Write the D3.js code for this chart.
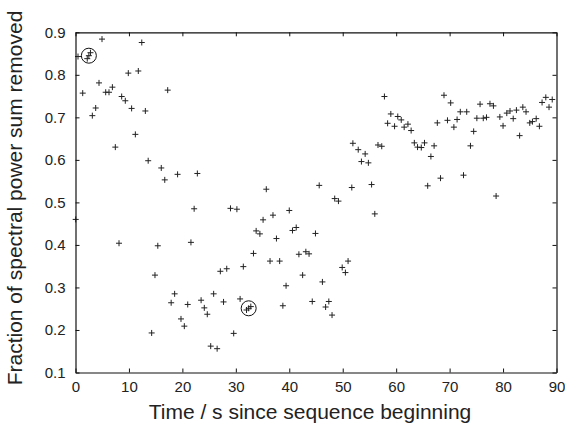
<!DOCTYPE html>
<html>
<head>
<meta charset="utf-8">
<script src="https://cdn.jsdelivr.net/npm/d3@7"></script>
<style>
  body { margin: 0; background: #fff; }
  text { font-family: "Liberation Sans", Arial, sans-serif; fill: #222; }
</style>
</head>
<body>
<script>
// sample times (s) and fraction removed
var times = [0.04, 0.47, 1.35, 2.2, 2.5, 2.8, 3.15, 3.78, 4.4, 4.96, 5.65, 6.27, 6.9, 7.45, 8.14,
  8.64, 9.32, 9.88, 10.5, 11.2, 11.75, 12.4, 13.07, 13.6, 14.25, 14.87, 15.4, 16.05, 16.7, 17.25,
  17.9, 18.55, 19.1, 19.74, 20.36, 21.0, 21.6, 22.2, 22.8, 23.5, 24.1, 24.66, 25.3, 25.85, 26.5,
  27.1, 27.7, 28.3, 29.0, 29.6, 30.2, 30.8, 31.4, 32.0, 32.4, 32.8, 33.3, 33.8, 34.5, 35.1, 35.7,
  36.4, 36.95, 37.6, 38.2, 38.8, 39.4, 40.0, 40.6, 41.3, 41.8, 42.5, 43.1, 43.7, 44.3, 44.9, 45.6,
  46.2, 46.8, 47.4, 48.0, 48.5, 49.2, 49.9, 50.5, 51.0, 51.7, 51.9, 52.9, 53.5, 54.2, 54.8, 55.4,
  56.0, 56.6, 57.3, 57.8, 58.4, 59.0, 59.7, 60.3, 60.95, 61.5, 62.2, 62.8, 63.4, 64.0, 64.7, 65.3,
  65.9, 66.5, 67.1, 67.7, 68.3, 68.95, 69.6, 70.2, 70.8, 71.4, 72.0, 72.6, 73.2, 73.9, 74.5, 75.1,
  75.7, 76.3, 76.9, 77.55, 78.2, 78.7, 79.4, 80.0, 80.7, 81.3, 81.9, 82.5, 83.1, 83.7, 84.3, 85.0,
  85.5, 86.2, 86.8, 87.3, 88.0, 88.6, 89.2];
var fractions = [0.460, 0.843, 0.757, 0.838, 0.845, 0.852, 0.704, 0.722, 0.781, 0.884, 0.759, 0.759, 0.771, 0.630, 0.404,
  0.749, 0.739, 0.804, 0.721, 0.660, 0.809, 0.876, 0.715, 0.598, 0.193, 0.329, 0.398, 0.581, 0.553, 0.764,
  0.264, 0.285, 0.566, 0.226, 0.209, 0.260, 0.406, 0.485, 0.568, 0.270, 0.252, 0.237, 0.162, 0.285, 0.156,
  0.338, 0.266, 0.344, 0.486, 0.192, 0.484, 0.273, 0.349, 0.247, 0.251, 0.255, 0.380, 0.433, 0.426, 0.459, 0.531,
  0.362, 0.470, 0.415, 0.362, 0.257, 0.304, 0.481, 0.434, 0.441, 0.378, 0.329, 0.384, 0.379, 0.267, 0.427, 0.540,
  0.313, 0.254, 0.267, 0.235, 0.509, 0.503, 0.347, 0.335, 0.362, 0.535, 0.639, 0.624, 0.596, 0.614, 0.593, 0.542,
  0.473, 0.635, 0.632, 0.749, 0.686, 0.708, 0.679, 0.702, 0.694, 0.677, 0.684, 0.669, 0.640, 0.630, 0.629, 0.640,
  0.539, 0.608, 0.633, 0.687, 0.557, 0.752, 0.693, 0.734, 0.677, 0.695, 0.713, 0.564, 0.713, 0.633, 0.667, 0.698,
  0.731, 0.698, 0.700, 0.732, 0.727, 0.515, 0.701, 0.680, 0.710, 0.715, 0.697, 0.717, 0.657, 0.724, 0.713, 0.687,
  0.690, 0.697, 0.679, 0.735, 0.747, 0.724, 0.742];

// the two circled groups
var circledTimes = [2.5, 32.4];
var circledFractions = [0.845, 0.251];

var xTicks = [0, 10, 20, 30, 40, 50, 60, 70, 80, 90];
var yTicks = [0.1, 0.2, 0.3, 0.4, 0.5, 0.6, 0.7, 0.8, 0.9];

var width = 565, height = 425;
var plotLeft = 75.5, plotRight = 556.5, plotTop = 32.3, plotBottom = 372.5;

var svg = d3.select('body').append('svg')
  .attr('width', width)
  .attr('height', height);

var x = d3.scaleLinear().domain([0, 90]).range([plotLeft, plotRight]);
var y = d3.scaleLinear().domain([0.1, 0.9]).range([plotBottom, plotTop]);

var points = times.map(function(t, i) { return [t, fractions[i]]; });

// plus markers
svg.append('g')
  .selectAll('path')
  .data(points)
  .enter().append('path')
  .attr('d', function(d) {
    var cx = x(d[0]), cy = y(d[1]), s = 3;
    return 'M' + (cx - s) + ',' + cy + 'H' + (cx + s) + 'M' + cx + ',' + (cy - s) + 'V' + (cy + s);
  })
  .attr('stroke', '#222')
  .attr('stroke-width', 1)
  .attr('fill', 'none');

svg.append('g')
  .selectAll('circle')
  .data(circledTimes)
  .enter().append('circle')
  .attr('cx', function(d) { return x(d); })
  .attr('cy', function(d, i) { return y(circledFractions[i]); })
  .attr('r', 7.5)
  .attr('fill', 'none')
  .attr('stroke', '#111')
  .attr('stroke-width', 1);

// axes, ticks pointing inward, mirrored on top and right
var bottomAxis = d3.axisBottom(x).tickValues(xTicks).tickSizeInner(-4).tickSizeOuter(0).tickPadding(9);
var topAxis = d3.axisTop(x).tickValues(xTicks).tickSizeInner(-4).tickSizeOuter(0).tickFormat('');
var leftAxis = d3.axisLeft(y).tickValues(yTicks).tickSizeInner(-4).tickSizeOuter(0).tickPadding(10)
  .tickFormat(d3.format('.1f'));
var rightAxis = d3.axisRight(y).tickValues(yTicks).tickSizeInner(-4).tickSizeOuter(0).tickFormat('');

svg.append('g').attr('transform', 'translate(0,' + plotBottom + ')').call(bottomAxis);
svg.append('g').attr('transform', 'translate(0,' + plotTop + ')').call(topAxis);
svg.append('g').attr('transform', 'translate(' + plotLeft + ',0)').call(leftAxis);
svg.append('g').attr('transform', 'translate(' + plotRight + ',0)').call(rightAxis);

svg.selectAll('.domain').attr('stroke', '#111').attr('stroke-width', 1.2);
svg.selectAll('.tick line').attr('stroke', '#111');
svg.selectAll('.tick text')
  .style('font-family', '"Liberation Sans", Arial, sans-serif')
  .style('font-size', '15px')
  .attr('fill', '#222');

svg.append('text')
  .attr('x', 310)
  .attr('y', 419)
  .attr('text-anchor', 'middle')
  .style('font-size', '21px')
  .text('Time / s since sequence beginning');

svg.append('text')
  .attr('transform', 'translate(22,198) rotate(-90)')
  .attr('text-anchor', 'middle')
  .style('font-size', '21px')
  .text('Fraction of spectral power sum removed');
</script>
</body>
</html>
